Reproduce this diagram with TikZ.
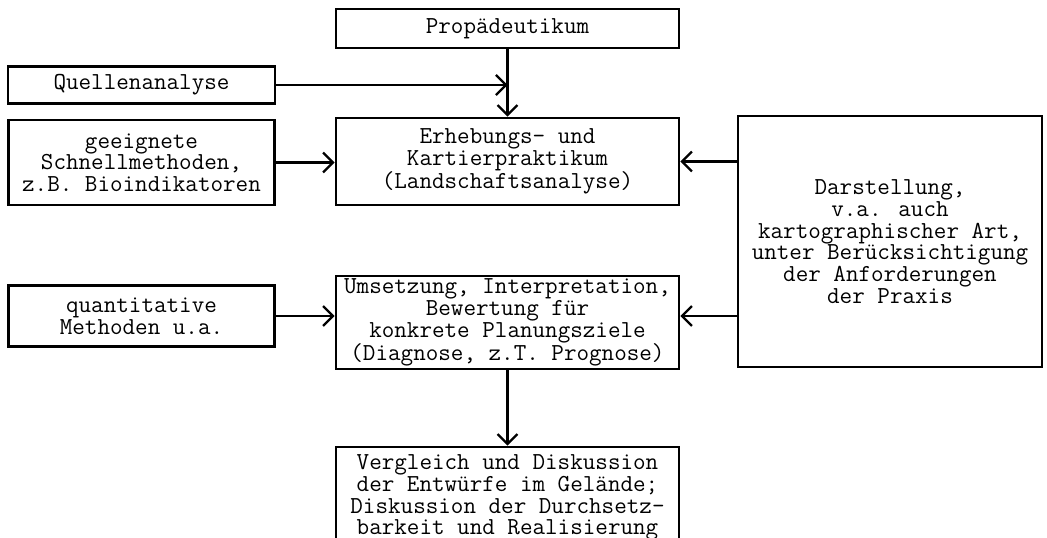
\documentclass[tikz,border=0pt]{standalone}
\usetikzlibrary{arrows.meta}
\begin{document}
\begin{tikzpicture}[x=1pt,y=-1pt,
  box/.style={draw, line width=2.6pt, inner sep=0pt, align=center,
    font=\fontsize{24.4}{21.7}\selectfont\ttfamily},
  arr/.style={line width=2.3pt, -{Straight Barb[length=10pt,width=20pt,line width=2.3pt]}}]
\clip (0,0) rectangle (1047,538);
\fill[white] (0,0) rectangle (1047,538);
\node[box, minimum width=343pt, minimum height=39pt] (prop) at (507.5,28.5) {Propädeutikum};
\node[box, minimum width=267pt, minimum height=37pt] (quel) at (141.5,85) {Quellenanalyse};
\node[box, minimum width=266pt, minimum height=85pt] (schn) at (141.5,162.5) {geeignete\\Schnellmethoden,\\z.B. Bioindikatoren};
\node[box, minimum width=343pt, minimum height=87pt] (erh) at (507.5,161.5) {Erhebungs- und\\Kartierpraktikum\\(Landschaftsanalyse)};
\node[box, minimum width=304pt, minimum height=251pt] (dar) at (890,241.5) {Darstellung,\\v.a. auch\\kartographischer Art,\\unter Berücksichtigung\\der Anforderungen\\der Praxis};
\node[box, minimum width=266pt, minimum height=61pt] (quan) at (141.5,316) {quantitative\\Methoden u.a.};
\node[box, minimum width=343pt, minimum height=93pt] (ums) at (507.5,322.5) {Umsetzung, Interpretation,\\Bewertung für\\konkrete Planungsziele\\(Diagnose, z.T. Prognose)};
\node[box, minimum width=343pt, minimum height=101pt] (ver) at (507.5,497.5) {Vergleich und Diskussion\\der Entwürfe im Gelände;\\Diskussion der Durchsetz-\\barkeit und Realisierung};
\coordinate (j) at (prop.south |- quel.east);
\draw[arr] (prop.south) -- (erh.north);
\draw[arr] (quel.east) -- (j);
\draw[arr] (schn.east) -- (erh.west |- schn.east);
\draw[arr] (dar.west |- erh.east) -- (erh.east);
\draw[arr] (quan.east) -- (ums.west |- quan.east);
\draw[arr] (dar.west |- quan.east) -- (ums.east |- quan.east);
\draw[arr] (ums.south) -- (ver.north);
\end{tikzpicture}
\end{document}
